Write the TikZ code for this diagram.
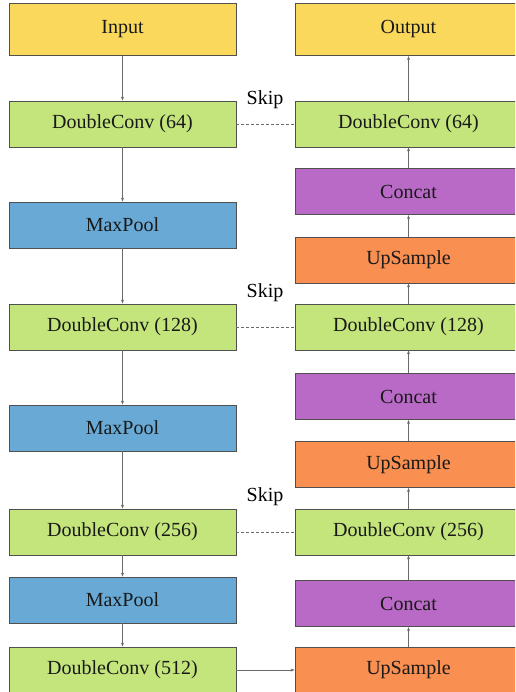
\documentclass[tikz,border=0pt]{standalone}
\usepackage{fontspec}
\setmainfont{Liberation Serif}
\usetikzlibrary{arrows.meta}
\definecolor{cyel}{HTML}{F9D85C}
\definecolor{cgrn}{HTML}{C3E57B}
\definecolor{cblu}{HTML}{68A9D5}
\definecolor{cpur}{HTML}{B96AC6}
\definecolor{corg}{HTML}{F98F50}
\definecolor{cbrd}{HTML}{505050}
\definecolor{cline}{HTML}{6A6A6A}
\tikzset{
  blk/.style={draw=cbrd, line width=0.8pt, minimum width=227pt, minimum height=46pt,
    inner sep=0pt, font=\fontsize{20}{24}\selectfont, text=black!90},
  io/.style={blk, fill=cyel, minimum height=52.4pt},
  dconv/.style={blk, fill=cgrn},
  pool/.style={blk, fill=cblu},
  cat/.style={blk, fill=cpur},
  ups/.style={blk, fill=corg},
  flow/.style={draw=cline, line width=0.8pt, -{Stealth[length=4pt,width=3pt]}},
  skipline/.style={draw=cline, line width=0.8pt, dash pattern=on 3pt off 2pt},
  skiplbl/.style={font=\fontsize{20}{24}\selectfont, inner sep=0pt}
}
\begin{document}
\begin{tikzpicture}[x=1pt,y=-1pt]
\useasboundingbox (0,0) rectangle (515,692);
\clip (0,0) rectangle (515,692);
% left column
\node[io]    (in)   at (122.5,29.5) {Input};
\node[dconv] (d64)  at (122.5,124)  {DoubleConv (64)};
\node[pool]  (mp1)  at (122.5,225)  {MaxPool};
\node[dconv] (d128) at (122.5,327)  {DoubleConv (128)};
\node[pool]  (mp2)  at (122.5,428)  {MaxPool};
\node[dconv] (d256) at (122.5,532)  {DoubleConv (256)};
\node[pool]  (mp3)  at (122.5,600)  {MaxPool};
\node[dconv] (d512) at (122.5,670)  {DoubleConv (512)};
% right column
\node[io]    (out)   at (408.5,29.5)  {Output};
\node[dconv] (r64)   at (408.5,124)   {DoubleConv (64)};
\node[cat]   (c1)    at (408.5,191.7) {Concat};
\node[ups]   (u1)    at (408.5,260)   {UpSample};
\node[dconv] (r128)  at (408.5,327)   {DoubleConv (128)};
\node[cat]   (c2)    at (408.5,396.5) {Concat};
\node[ups]   (u2)    at (408.5,464.5) {UpSample};
\node[dconv] (r256)  at (408.5,532)   {DoubleConv (256)};
\node[cat]   (c3)    at (408.5,603.7) {Concat};
\node[ups]   (u3)    at (408.5,670)   {UpSample};
% skip labels
\node[skiplbl] (s1) at (265,99.5) {Skip};
\node[skiplbl] (s2) at (265,292.5) {Skip};
\node[skiplbl] (s3) at (265,497) {Skip};
% down path
\draw[flow] (in) -- (d64);
\draw[flow] (d64) -- (mp1);
\draw[flow] (mp1) -- (d128);
\draw[flow] (d128) -- (mp2);
\draw[flow] (mp2) -- (d256);
\draw[flow] (d256) -- (mp3);
\draw[flow] (mp3) -- (d512);
% bottleneck
\draw[flow] (d512) -- (u3);
% up path
\draw[flow] (u3) -- (c3);
\draw[flow] (c3) -- (r256);
\draw[flow] (r256) -- (u2);
\draw[flow] (u2) -- (c2);
\draw[flow] (c2) -- (r128);
\draw[flow] (r128) -- (u1);
\draw[flow] (u1) -- (c1);
\draw[flow] (c1) -- (r64);
\draw[flow] (r64) -- (out);
% skips
\draw[skipline] (d64) -- (r64);
\draw[skipline] (d128) -- (r128);
\draw[skipline] (d256) -- (r256);
\end{tikzpicture}
\end{document}
